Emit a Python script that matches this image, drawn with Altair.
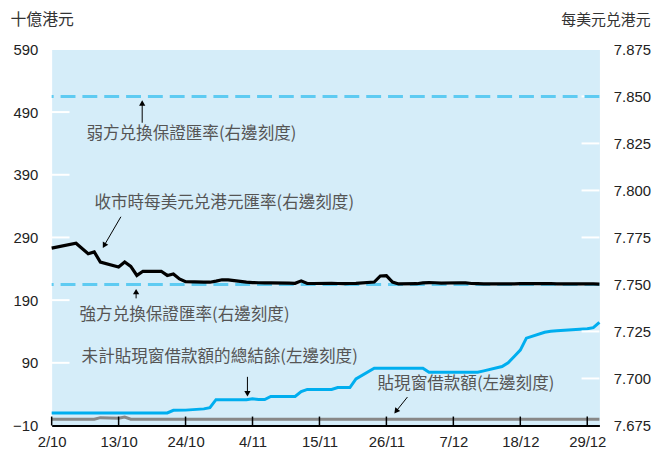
import altair as alt
import pandas as pd

# ---------------- data ----------------
rate_dates = ["2008/10/02", "2008/10/06", "2008/10/08", "2008/10/09", "2008/10/10", "2008/10/13",
              "2008/10/14", "2008/10/15", "2008/10/16", "2008/10/17", "2008/10/20", "2008/10/21",
              "2008/10/22", "2008/10/23", "2008/10/24", "2008/10/27", "2008/10/28", "2008/10/29",
              "2008/10/30", "2008/10/31", "2008/11/03", "2008/11/04", "2008/11/05", "2008/11/06",
              "2008/11/07", "2008/11/10", "2008/11/11", "2008/11/12", "2008/11/13", "2008/11/14",
              "2008/11/17", "2008/11/18", "2008/11/19", "2008/11/20", "2008/11/21", "2008/11/24",
              "2008/11/25", "2008/11/26", "2008/11/27", "2008/11/28", "2008/12/01", "2008/12/02",
              "2008/12/03", "2008/12/04", "2008/12/05", "2008/12/08", "2008/12/09", "2008/12/10",
              "2008/12/11", "2008/12/12", "2008/12/15", "2008/12/16", "2008/12/17", "2008/12/18",
              "2008/12/19", "2008/12/22", "2008/12/23", "2008/12/24", "2008/12/29", "2008/12/30",
              "2008/12/31"]
rate_vals = [7.7693, 7.7719, 7.7663, 7.7673, 7.7619, 7.7593,
             7.7619, 7.7596, 7.7548, 7.7570, 7.7570, 7.7548,
             7.7556, 7.7529, 7.7515, 7.7512, 7.7512, 7.7518,
             7.7525, 7.7524, 7.7512, 7.7510, 7.7509, 7.7508,
             7.7508, 7.7507, 7.7506, 7.7519, 7.7505, 7.7505,
             7.7506, 7.7505, 7.7504, 7.7505, 7.7506, 7.7513,
             7.7545, 7.7547, 7.7513, 7.7503, 7.7504, 7.7508,
             7.7510, 7.7509, 7.7507, 7.7509, 7.7508, 7.7505,
             7.7504, 7.7503, 7.7503, 7.7503, 7.7503, 7.7504,
             7.7504, 7.7504, 7.7505, 7.7503, 7.7503, 7.7503,
             7.7502]

bal_dates = ["2008/10/02", "2008/10/21", "2008/10/22", "2008/10/24", "2008/10/27", "2008/10/28",
             "2008/10/29", "2008/11/03", "2008/11/04", "2008/11/05", "2008/11/06", "2008/11/07",
             "2008/11/11", "2008/11/12", "2008/11/13", "2008/11/17", "2008/11/18", "2008/11/20",
             "2008/11/21", "2008/11/24", "2008/12/02", "2008/12/03", "2008/12/11", "2008/12/12",
             "2008/12/15", "2008/12/16", "2008/12/17", "2008/12/18", "2008/12/19", "2008/12/22",
             "2008/12/23", "2008/12/24", "2008/12/29", "2008/12/30", "2008/12/31"]
bal_vals = [10.1, 10.1, 14.2, 14.5, 16.5, 18.5,
            31.2, 31.2, 32.7, 31.5, 31.5, 36.4,
            36.4, 44.0, 47.5, 47.5, 50.6, 50.6,
            64.4, 81.3, 81.3, 75.0, 75.0, 77.1,
            84.0, 90.0, 100.0, 110.3, 129.3, 138.8,
            140.4, 141.0, 144.5, 146.0, 154.6]

dw_dates = ["2008/10/02", "2008/10/09", "2008/10/10", "2008/10/13", "2008/10/14", "2008/10/15", "2008/12/31"]
dw_vals = [0, 0, 2.5, 1.5, 3.5, 0, 0]

guide_vals = [7.85, 7.75]
left_ticks = [90, 190, 290, 390, 490]
right_ticks = [7.700, 7.725, 7.750, 7.775, 7.800, 7.825, 7.850]
left_labels = [-10, 90, 190, 290, 390, 490, 590]
right_labels = [7.675, 7.700, 7.725, 7.750, 7.775, 7.800, 7.825, 7.850, 7.875]
x_tick_dates = ["2008/10/02", "2008/10/13", "2008/10/24", "2008/11/04", "2008/11/15",
                "2008/11/26", "2008/12/07", "2008/12/18", "2008/12/29"]

txtR_x = ["2008/10/07 17:00", "2008/10/09 00:30", "2008/10/06 14:00"]
txtR_y = [7.8301, 7.7932, 7.7336]
txtR_s = ["弱方兑換保證匯率(右邊刻度)", "收市時每美元兑港元匯率(右邊刻度)", "強方兑換保證匯率(右邊刻度)"]
txtL_x = ["2008/10/06 22:00", "2008/11/24 13:00"]
txtL_y = [99.2, 56.5]
txtL_s = ["未計貼現窗借款額的總結餘(左邊刻度)", "貼現窗借款額(左邊刻度)"]

arrR_x = ["2008/10/16 21:00", "2008/10/13 09:00", "2008/10/15 21:00"]
arrR_y = [7.8360, 7.7860, 7.7426]
arrR_x2 = ["2008/10/16 21:00", "2008/10/10 15:00", "2008/10/15 21:00"]
arrR_y2 = [7.8465, 7.7707, 7.7462]
arrR_a = [0, 210, 0]
arrL_x = ["2008/11/03 04:00", "2008/11/29 11:00"]
arrL_y = [67.6, 35.4]
arrL_x2 = ["2008/11/03 04:00", "2008/11/27 14:00"]
arrL_y2 = [40.7, 12.6]
arrL_a = [180, 218]

# ---------------- chart ----------------
W, H = 552, 379
LABEL_FONT = "Liberation Sans"
CJK = "Noto Sans CJK TC"


def dt(s):
    y, m, d = s.split(" ")[0].split("/")
    return alt.DateTime(year=int(y), month=int(m), date=int(d))


xscale = alt.Scale(domain=[dt("2008/10/02"), dt("2008/12/31")], nice=False)
xaxis = alt.Axis(values=[dt(s) for s in x_tick_dates], format="%-d/%-m", labelFontSize=15,
                 labelFont=LABEL_FONT, labelColor="#222", tickSize=0, domainColor="black",
                 domainWidth=2, labelPadding=9, labelFlush=False, labelOverlap=False,
                 grid=False, title=None)


def X(f):
    return alt.X(f, type="temporal", scale=xscale, axis=xaxis, title=None)


scaleL = alt.Scale(domain=[-10, 590], nice=False, zero=False)
axisL = alt.Axis(orient="left", values=left_labels, tickSize=0, domain=False, grid=False,
                 labelPadding=14, labelFontSize=15, labelFont=LABEL_FONT, labelColor="#222",
                 title="十億港元", titleAngle=0, titleX=-42, titleY=-30, titleAlign="left",
                 titleBaseline="middle", titleFontSize=16, titleFont=CJK,
                 titleFontWeight="normal", titleColor="#333")
scaleR = alt.Scale(domain=[7.675, 7.875], nice=False, zero=False)
axisR = alt.Axis(orient="right", values=right_labels, format=".3f", tickSize=0, domain=False,
                 grid=False, labelPadding=14, labelFontSize=15, labelFont=LABEL_FONT,
                 labelColor="#222", title="每美元兑港元", titleAngle=0, titleX=51, titleY=-30,
                 titleAlign="right", titleBaseline="middle", titleFontSize=15, titleFont=CJK,
                 titleFontWeight="normal", titleColor="#333")


def YL(f):
    return alt.Y(f, type="quantitative", scale=scaleL, axis=axisL, title="十億港元")


def YR(f):
    return alt.Y(f, type="quantitative", scale=scaleR, axis=axisR, title="每美元兑港元")


rate_df = pd.DataFrame({"d": rate_dates, "v": rate_vals})
bal_df = pd.DataFrame({"d": bal_dates, "v": bal_vals})
dw_df = pd.DataFrame({"d": dw_dates, "v": dw_vals})

# left group
wtL = alt.Chart(pd.DataFrame({"v": left_ticks})).mark_rule(color="white", strokeWidth=2).encode(
    y=YL("v"), x=alt.value(0), x2=alt.value(18))
blue = alt.Chart(bal_df).mark_line(color="#00aeef", strokeWidth=3).encode(x=X("d"), y=YL("v"))
grey = alt.Chart(dw_df).mark_line(color="#888888", strokeWidth=3).encode(x=X("d"), y=YL("v"))
xt = alt.Chart(pd.DataFrame({"d": x_tick_dates})).mark_rule(color="black", strokeWidth=1.5).encode(
    x=X("d"), y=alt.value(H - 9), y2=alt.value(H))
arrL_df = pd.DataFrame({"x": arrL_x, "y": arrL_y, "x2": arrL_x2, "y2": arrL_y2, "a": arrL_a})
arrL = alt.Chart(arrL_df).mark_rule(color="black", strokeWidth=1).encode(
    x=X("x"), y=YL("y"), x2="x2:T", y2="y2")
headL = alt.Chart(arrL_df).mark_point(shape="triangle-up", filled=True, color="black", size=40,
                                      opacity=1).encode(
    x=X("x2"), y=YL("y2"), angle=alt.Angle("a:Q", scale=None))
txtL = alt.Chart(pd.DataFrame({"x": txtL_x, "y": txtL_y, "s": txtL_s})).mark_text(
    align="left", baseline="middle", fontSize=16.7, font=CJK, color="#555").encode(
    x=X("x"), y=YL("y"), text="s:N")

left = alt.layer(wtL, blue, grey, xt, arrL, headL, txtL)

# right group
wtR = alt.Chart(pd.DataFrame({"v": right_ticks})).mark_rule(color="white", strokeWidth=2).encode(
    y=YR("v"), x=alt.value(W - 18), x2=alt.value(W))
guides = alt.Chart(pd.DataFrame({"v": guide_vals})).mark_rule(
    color="#5ecbf2", strokeWidth=3, strokeDash=[15, 7]).encode(y=YR("v"))
black = alt.Chart(rate_df).mark_line(color="black", strokeWidth=3.2).encode(x=X("d"), y=YR("v"))
arrR_df = pd.DataFrame({"x": arrR_x, "y": arrR_y, "x2": arrR_x2, "y2": arrR_y2, "a": arrR_a})
arrR = alt.Chart(arrR_df).mark_rule(color="black", strokeWidth=1).encode(
    x=X("x"), y=YR("y"), x2="x2:T", y2="y2")
headR = alt.Chart(arrR_df).mark_point(shape="triangle-up", filled=True, color="black", size=40,
                                      opacity=1).encode(
    x=X("x2"), y=YR("y2"), angle=alt.Angle("a:Q", scale=None))
txtR = alt.Chart(pd.DataFrame({"x": txtR_x, "y": txtR_y, "s": txtR_s})).mark_text(
    align="left", baseline="middle", fontSize=16.7, font=CJK, color="#555").encode(
    x=X("x"), y=YR("y"), text="s:N")

right = alt.layer(wtR, guides, black, arrR, headR, txtR)

chart = alt.layer(left, right).resolve_scale(y="independent").properties(
    width=W, height=H, padding=2
).configure_view(fill="#d5edf9", stroke="transparent")

chart.save("out.html", embed_options={"renderer": "svg", "actions": False})
